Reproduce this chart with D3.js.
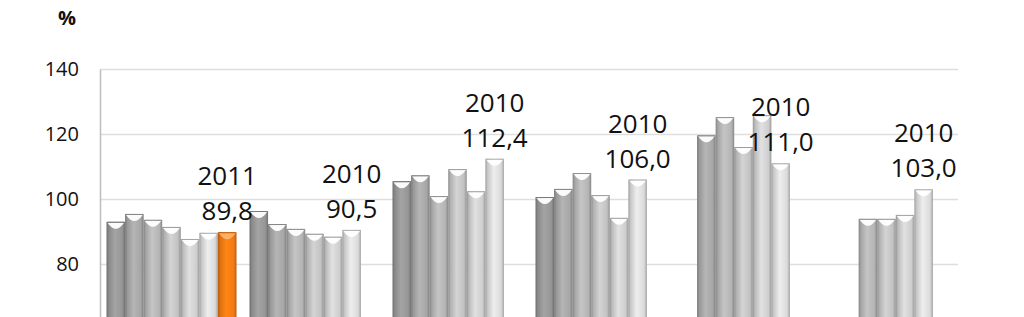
<!DOCTYPE html>
<html>
<head>
<meta charset="utf-8">
<script src="https://cdn.jsdelivr.net/npm/d3@7"></script>
<style>
  body { margin: 0; background: #fff; }
  svg { display: block; font-family: 'Open Sans', sans-serif; }
</style>
</head>
<body>
<svg id="chart"></svg>
<script>
const width = 1024;
const height = 317;

// categories (names are cut off in the picture)
const categories = ['c1', 'c2', 'c3', 'c4', 'c5', 'c6'];
// one series per year
const seriesNames = ['2005', '2006', '2007', '2008', '2009', '2010', '2011'];
const s2005 = [93.0, 96.3, 105.5, 100.6, null, null];
const s2006 = [95.4, 92.3, 107.3, 103.1, 119.6, null];
const s2007 = [93.6, 90.8, 100.9, 108.0, 125.2, 93.9];
const s2008 = [91.4, 89.3, 109.2, 101.2, 116.0, 93.9];
const s2009 = [87.7, 88.4, 102.4, 94.2, 125.8, 95.1];
const s2010 = [89.6, 90.5, 112.4, 106.0, 111.0, 103.0];
const s2011 = [89.8, null, null, null, null, null];
const yTicks = [80, 100, 120, 140];

const seriesValues = [s2005, s2006, s2007, s2008, s2009, s2010, s2011];
const seriesColors = ['#969696', '#a6a6a6', '#b4b4b4', '#c2c2c2', '#cecece', '#dadada', '#f47a12'];

const margin = { left: 100, right: 66, top: 69 };

const svg = d3.select('#chart').attr('width', width).attr('height', height);

const x0 = d3.scaleBand()
  .domain(categories)
  .range([margin.left, width - margin.right])
  .paddingInner(0.0909)
  .paddingOuter(0.0909 / 2);
const x1 = d3.scaleBand()
  .domain(seriesNames)
  .range([0, x0.bandwidth()]);
const y = d3.scaleLinear()
  .domain([60, 140])
  .range([margin.top + 260, margin.top]);

// gradients to give the bars a rounded look
const defs = svg.append('defs');
seriesColors.forEach((c, i) => {
  const base = d3.color(c);
  const g = defs.append('linearGradient')
    .attr('id', 'grad' + i)
    .attr('x1', 0).attr('x2', 1).attr('y1', 0).attr('y2', 0);
  g.append('stop').attr('offset', '0%').attr('stop-color', base.darker(0.9));
  g.append('stop').attr('offset', '12%').attr('stop-color', base.darker(0.25));
  g.append('stop').attr('offset', '45%').attr('stop-color', base.brighter(0.25));
  g.append('stop').attr('offset', '85%').attr('stop-color', base);
  g.append('stop').attr('offset', '100%').attr('stop-color', base.darker(0.8));
});

// grid lines
svg.append('g')
  .selectAll('line')
  .data(yTicks)
  .join('line')
  .attr('x1', margin.left)
  .attr('x2', width - margin.right)
  .attr('y1', d => Math.round(y(d)) + 0.5)
  .attr('y2', d => Math.round(y(d)) + 0.5)
  .attr('stroke', '#dedede')
  .attr('stroke-width', 1.5);

// y axis
const yAxis = svg.append('g')
  .attr('transform', `translate(${margin.left}, 0)`)
  .call(d3.axisLeft(y).tickValues(yTicks).tickSize(0).tickPadding(21));
yAxis.select('.domain').attr('stroke', '#bdbdbd').attr('stroke-width', 1.5);
yAxis.selectAll('text')
  .attr('font-size', 20)
  .attr('font-family', "'Open Sans', sans-serif")
  .attr('fill', '#111');

svg.append('text')
  .attr('x', 67)
  .attr('y', 25)
  .attr('text-anchor', 'middle')
  .attr('font-size', 20)
  .attr('font-weight', 'bold')
  .attr('fill', '#111')
  .text('%');

// bars
const barData = [];
categories.forEach((cat, ci) => {
  seriesNames.forEach((s, si) => {
    const v = seriesValues[si][ci];
    if (v != null) barData.push({ cat, s, si, v });
  });
});

const bars = svg.append('g').selectAll('g').data(barData).join('g');
bars.append('rect')
  .attr('x', d => x0(d.cat) + x1(d.s))
  .attr('y', d => y(d.v))
  .attr('width', x1.bandwidth())
  .attr('height', d => height - y(d.v))
  .attr('fill', d => `url(#grad${d.si})`);
// concave highlight at the top of each bar
bars.append('path')
  .attr('d', d => {
    const bx = x0(d.cat) + x1(d.s) + 1;
    const bw = x1.bandwidth() - 2;
    const by = y(d.v) + 1;
    return `M${bx},${by} Q${bx + bw / 2},${by + 12} ${bx + bw},${by} Z`;
  })
  .attr('fill', d => d.si === 6 ? '#ffb36b' : '#ffffff')
  .attr('opacity', 0.95);
bars.append('line')
  .attr('x1', d => x0(d.cat) + x1(d.s) + 1)
  .attr('x2', d => x0(d.cat) + x1(d.s) + x1.bandwidth() - 1)
  .attr('y1', d => y(d.v) + 0.5)
  .attr('y2', d => y(d.v) + 0.5)
  .attr('stroke', d => d3.color(seriesColors[d.si]).darker(0.6))
  .attr('stroke-width', 1);

// value labels above the last bar of each group
const fmt = d3.formatLocale({ decimal: ',', thousands: ' ', grouping: [3], currency: ['', ''] }).format('.1f');
const labelData = categories.map((cat, ci) => {
  let si = seriesNames.length - 1;
  while (seriesValues[si][ci] == null) si--;
  return { cat, s: seriesNames[si], v: seriesValues[si][ci] };
});
const labels = svg.append('g').selectAll('text').data(labelData).join('text')
  .attr('text-anchor', 'middle')
  .attr('font-size', 26)
  .attr('fill', '#111')
  .attr('x', d => x0(d.cat) + x1(d.s) + x1.bandwidth() / 2)
  .attr('y', d => y(d.v) - 12);
labels.append('tspan')
  .attr('x', d => x0(d.cat) + x1(d.s) + x1.bandwidth() / 2)
  .attr('dy', -35)
  .text(d => d.s);
labels.append('tspan')
  .attr('x', d => x0(d.cat) + x1(d.s) + x1.bandwidth() / 2)
  .attr('dy', 35)
  .text(d => fmt(d.v));
</script>
</body>
</html>
